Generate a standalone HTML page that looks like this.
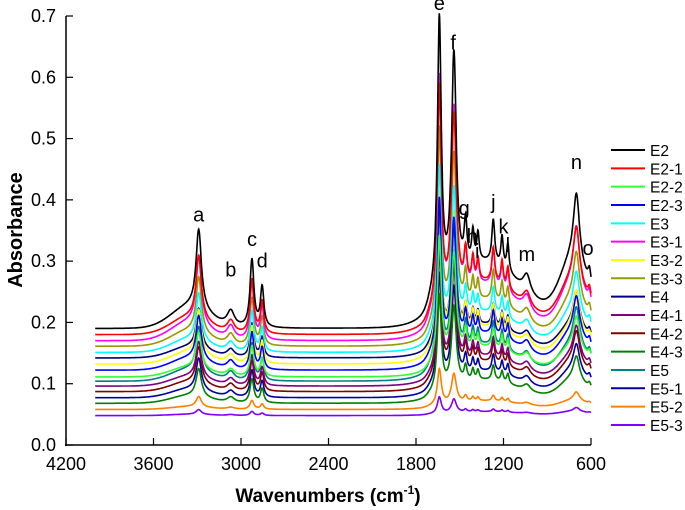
<!DOCTYPE html>
<html><head><meta charset="utf-8"><style>
body{margin:0;background:#fff;}
svg{display:block;font-family:"Liberation Sans",Arial,sans-serif;}
</style></head><body>
<svg id="chart" width="685" height="510">
<g id="series"></g>
<g id="axes"></g>
<g id="labels"></g>
<g id="legend"></g>
<text x="328" y="502" text-anchor="middle" font-size="19" font-weight="bold">Wavenumbers (cm<tspan font-size="12" dy="-8">-1</tspan><tspan dy="8">)</tspan></text>
<text transform="translate(22,230) rotate(-90)" text-anchor="middle" font-size="20" font-weight="bold">Absorbance</text>
</svg>
<script>
const seriesNames=["E2","E2-1","E2-2","E2-3","E3","E3-1","E3-2","E3-3","E4","E4-1","E4-2","E4-3","E5","E5-1","E5-2","E5-3"];
const seriesColors=["#000000","#ff0000","#33ff33","#0000ff","#00ffff","#ff00ff","#ffff00","#999900","#000080","#800080","#800000","#008000","#008080","#0000a0","#ff8000","#8000ff"];
const seriesBaselines=[0.19,0.18,0.111,0.122,0.151,0.17,0.132,0.161,0.142,0.096,0.087,0.068,0.104,0.077,0.058,0.048];
const seriesScales=[1.0,0.8,0.45,0.55,0.6,0.85,0.55,0.7,0.5,0.45,0.45,0.35,0.55,0.4,0.13,0.06];
const peakCenters=[3290,3070,2925,2855,1640,1540,1460,1410,1375,1270,1210,1170,1040,700,610];
const peakHeights=[0.13,0.025,0.11,0.065,0.45,0.37,0.07,0.05,0.045,0.07,0.05,0.045,0.03,0.11,0.03];
const peakWidths=[22,30,16,14,16,20,12,10,10,12,10,10,30,25,14];
const bandCenters=[3350,1320,720];
const bandHeights=[0.035,0.085,0.09];
const bandSigmas=[130,220,90];
const peakLetters=["a","b","c","d","e","f","g","h","i","j","k","l","m","n","o"];
const letterWn=[3290,3070,2925,2855,1640,1545,1470,1415,1380,1270,1200,1170,1040,700,620];
const letterVal=[0.365,0.275,0.325,0.29,0.71,0.645,0.375,0.33,0.305,0.385,0.345,0.315,0.3,0.45,0.31];
const xTicks=[4200,3600,3000,2400,1800,1200,600];
const yTicks=[0,0.1,0.2,0.3,0.4,0.5,0.6,0.7];

const NS="http://www.w3.org/2000/svg";
const X=w=>66+(4200-w)*(525/3600);
const Y=v=>445-v*(429/0.7);
function mk(t,a,p){const e=document.createElementNS(NS,t);for(const k in a)e.setAttribute(k,a[k]);p.appendChild(e);return e;}
function shape(w){let s=0;for(let i=0;i<peakCenters.length;i++){const d=(w-peakCenters[i])/peakWidths[i];s+=peakHeights[i]/(1+d*d);}
for(let i=0;i<bandCenters.length;i++){const d=(w-bandCenters[i])/bandSigmas[i];s+=bandHeights[i]*Math.exp(-0.5*d*d);}
s+=0.02/(1+Math.exp((w-1720)/15));return s;}
const sg=document.getElementById('series');
for(let k=seriesNames.length-1;k>=0;k--){
 let d="";
 for(let w=4000;w>=600;w-=2){const v=seriesBaselines[k]+seriesScales[k]*shape(w);d+=(w===4000?"M":"L")+X(w).toFixed(1)+","+Y(v).toFixed(1);}
 const p=mk('path',{d:d,fill:'none',stroke:seriesColors[k],'stroke-width':1.6},sg);
 
 
}
const ax=document.getElementById('axes');
const yl=mk('line',{x1:66,y1:16,x2:66,y2:446,stroke:'#000','stroke-width':1.5},ax);

const xl=mk('line',{x1:65,y1:445,x2:591,y2:445,stroke:'#000','stroke-width':1.5},ax);

yTicks.forEach(v=>{mk('line',{x1:66,y1:Y(v),x2:73,y2:Y(v),stroke:'#000','stroke-width':1.2},ax);
 const t=mk('text',{x:56,y:Y(v)+6,'text-anchor':'end','font-size':18},ax);t.textContent=v.toFixed(1);
 });
xTicks.forEach(w=>{mk('line',{x1:X(w),y1:445,x2:X(w),y2:438,stroke:'#000','stroke-width':1.2},ax);
 const t=mk('text',{x:X(w),y:470,'text-anchor':'middle','font-size':18},ax);t.textContent=w;
 });
const lb=document.getElementById('labels');
peakLetters.forEach((c,i)=>{const t=mk('text',{x:X(letterWn[i]),y:Y(letterVal[i]),'text-anchor':'middle','font-size':20},lb);t.textContent=c;
 });
const lg=document.getElementById('legend');
seriesNames.forEach((n,i)=>{const y=150+i*18.33;
 const g=mk('g',{},lg);
 
 mk('line',{x1:611,y1:y,x2:645,y2:y,stroke:seriesColors[i],'stroke-width':2},g);
 const t=mk('text',{x:650,y:y+6,'font-size':15.5},g);t.textContent=n;});
</script>
</body></html>
